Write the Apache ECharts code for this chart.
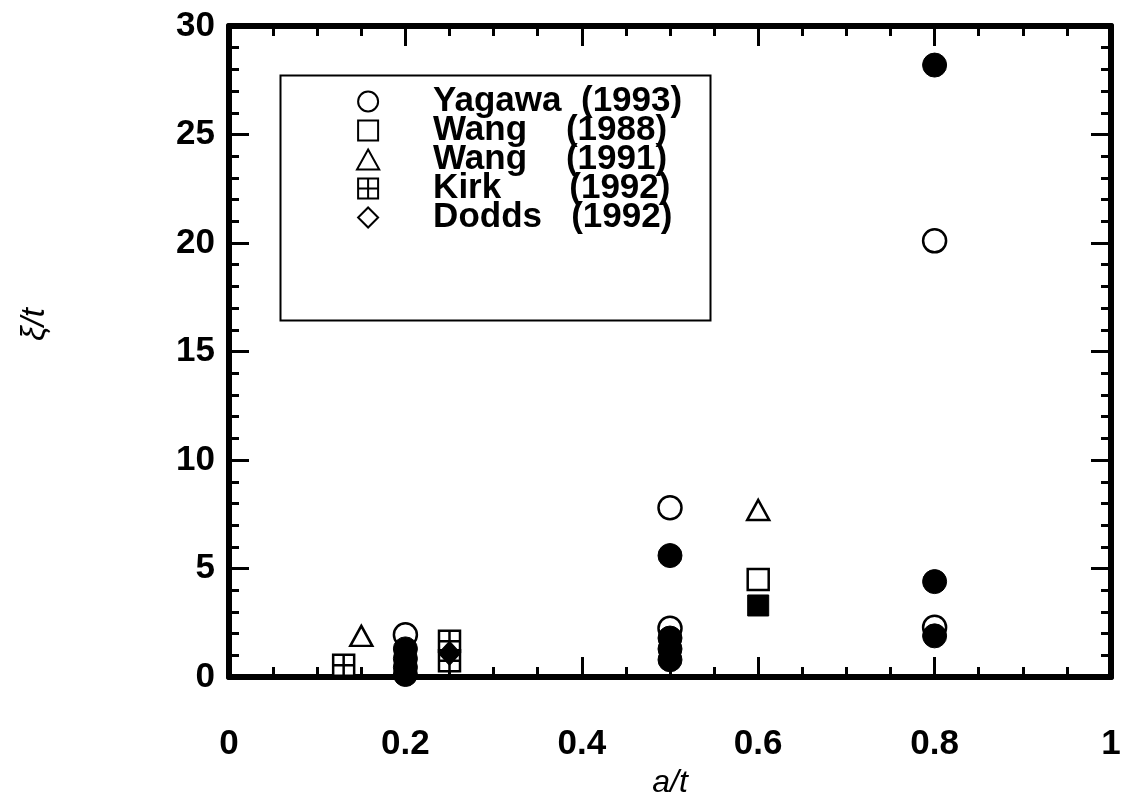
<!DOCTYPE html>
<html>
<head>
<meta charset="utf-8">
<script src="https://cdn.jsdelivr.net/npm/echarts@6/dist/echarts.min.js"></script>
<style>
html,body{margin:0;padding:0;background:#fff;}
#chart{width:1124px;height:804px;}
</style>
</head>
<body>
<div id="chart"></div>
<script>
// data
var yagawaX = [0.2, 0.5, 0.5, 0.8, 0.8];
var yagawaY = [1.95, 7.8, 2.25, 20.1, 2.3];
var filledCircX = [0.2, 0.2, 0.2, 0.2, 0.5, 0.5, 0.5, 0.5, 0.8, 0.8, 0.8];
var filledCircY = [1.3, 0.85, 0.45, 0.12, 5.6, 1.8, 1.3, 0.8, 28.2, 4.4, 1.9];
var wang88X = [0.6];
var wang88Y = [4.5];
var filledSqX = [0.6];
var filledSqY = [3.3];
var wang91X = [0.15, 0.6];
var wang91Y = [1.9, 7.7];
var kirkX = [0.13, 0.25, 0.25];
var kirkY = [0.55, 1.65, 0.75];
var doddsX = [0.25];
var doddsY = [1.1];
var legendNames = ['Yagawa  (1993)', 'Wang    (1988)', 'Wang    (1991)', 'Kirk       (1992)', 'Dodds   (1992)'];

var font = 'Liberation Sans, Arial, Helvetica, sans-serif';
var kirkPath = 'path://M0,0H20V20H0Z M10,0V20 M0,10H20';
var circlePath = 'path://M10,0A10,10,0,1,1,10,20A10,10,0,1,1,10,0Z';
var squarePath = 'path://M0,0H20V20H0Z';
var trianglePath = 'path://M10,0L20,18H0Z';
var diamondPath = 'path://M10,0L20,10L10,20L0,10Z';

function pairs(xs, ys){
    var out = [];
    for (var i = 0; i < xs.length; i++){
        out.push([xs[i], ys[i]]);
    }
    return out;
}

var openStyle = {color:'#fff', borderColor:'#000', borderWidth:2.5, opacity:1};
var fillStyle = {color:'#000', borderColor:'#000', borderWidth:1, opacity:1};

function xAxisDef(pos){
    return {
        type:'value', min:0, max:1, interval:0.2, position:pos,
        axisLine:{onZero:false, lineStyle:{color:'#000', width:6}},
        axisTick:{inside:true, length:20, lineStyle:{color:'#000', width:3}},
        minorTick:{show:true, splitNumber:4, length:10, lineStyle:{color:'#000', width:3}},
        splitLine:{show:false},
        axisLabel:{show:pos == 'bottom', margin:50, color:'#000', fontSize:35, fontWeight:'bold', fontFamily:font}
    };
}
function yAxisDef(pos){
    return {
        type:'value', min:0, max:30, interval:5, position:pos,
        axisLine:{onZero:false, lineStyle:{color:'#000', width:6}},
        axisTick:{inside:true, length:20, lineStyle:{color:'#000', width:3}},
        minorTick:{show:true, splitNumber:5, length:10, lineStyle:{color:'#000', width:3}},
        splitLine:{show:false},
        axisLabel:{show:pos == 'left', margin:14, color:'#000', fontSize:35, fontWeight:'bold', fontFamily:font}
    };
}

var chart = echarts.init(document.getElementById('chart'));
var xBottom = xAxisDef('bottom');
xBottom.name = 'a/t';
xBottom.nameLocation = 'middle';
xBottom.nameGap = 79;
xBottom.nameTextStyle = {color:'#000', fontSize:32, fontStyle:'italic', fontFamily:font};
var yLeft = yAxisDef('left');
yLeft.name = 'ξ/t';
yLeft.nameLocation = 'middle';
yLeft.nameGap = 178;
yLeft.nameTextStyle = {color:'#000', fontSize:33, fontStyle:'italic', fontFamily:font, padding:[0,0,0,54]};

var option = {
    backgroundColor:'#fff',
    animation:false,
    grid:{left:229, right:13, top:26, bottom:125},
    xAxis:[xBottom, xAxisDef('top')],
    yAxis:[yLeft, yAxisDef('right')],
    graphic:[{
        type:'rect', left:278, top:73, z:1,
        shape:{width:430, height:245},
        style:{fill:'none', stroke:'#000', lineWidth:2}
    }],
    legend:{
        left:356, top:84, orient:'vertical', padding:0, itemGap:-6,
        itemWidth:120, itemHeight:20, selectedMode:false,
        textStyle:{color:'#000', fontSize:35, fontWeight:'bold', fontFamily:font},
        data:[
            {name:legendNames[0], icon:circlePath},
            {name:legendNames[1], icon:squarePath},
            {name:legendNames[2], icon:trianglePath},
            {name:legendNames[3], icon:kirkPath},
            {name:legendNames[4], icon:diamondPath}
        ]
    },
    series:[
        {name:legendNames[0], type:'scatter', symbol:'circle', symbolSize:23, itemStyle:openStyle, data:pairs(yagawaX, yagawaY)},
        {name:legendNames[1], type:'scatter', symbol:'rect', symbolSize:21, itemStyle:openStyle, data:pairs(wang88X, wang88Y)},
        {name:legendNames[2], type:'scatter', symbol:'triangle', symbolSize:[22,20], itemStyle:openStyle, data:pairs(wang91X, wang91Y)},
        {name:legendNames[3], type:'scatter', symbol:kirkPath, symbolSize:21, itemStyle:openStyle, data:pairs(kirkX, kirkY)},
        {name:legendNames[4], type:'scatter', symbol:'diamond', symbolSize:22, itemStyle:openStyle, data:[]},
        {name:'filled circles', type:'scatter', symbol:'circle', symbolSize:24, itemStyle:fillStyle, data:pairs(filledCircX, filledCircY)},
        {name:'filled squares', type:'scatter', symbol:'rect', symbolSize:21, itemStyle:fillStyle, data:pairs(filledSqX, filledSqY)},
        {name:'filled diamonds', type:'scatter', symbol:'diamond', symbolSize:[22,24], itemStyle:fillStyle, data:pairs(doddsX, doddsY)}
    ]
};
chart.setOption(option);
</script>
</body>
</html>
